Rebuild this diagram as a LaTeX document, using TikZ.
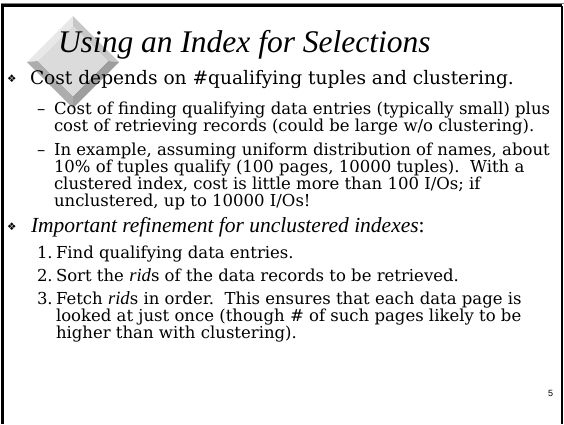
\documentclass[tikz,border=0pt]{standalone}
\usepackage{fontspec}
\setmainfont{DejaVu Serif}
\newfontfamily\slantfont{Liberation Serif}
\newfontfamily\ridfont{Liberation Serif}[Scale=MatchLowercase]
\newfontfamily\dingfont{DejaVu Sans}
\newfontfamily\pagefont{Liberation Sans}
\newcommand{\slant}[1]{{\slantfont\itshape #1}}
\newcommand{\rid}{{\ridfont\itshape rid}}
\usetikzlibrary{positioning, calc}
\definecolor{bevelhi}{gray}{0.91}
\definecolor{bevelmid}{gray}{0.78}
\definecolor{bevellow}{gray}{0.62}
\definecolor{bevelshade}{gray}{0.68}
\definecolor{faceplate}{gray}{0.86}

\begin{document}
\begin{tikzpicture}[x=1pt, y=-1pt,
    every node/.style={inner sep=0pt, outer sep=0pt},
    headline/.style={anchor=base west, font=\fontsize{31.5}{33}\slantfont\itshape},
    mainitem/.style={anchor=base west, font=\fontsize{18.6}{21}\selectfont},
    subitem/.style={anchor=base west, align=left, font=\fontsize{16.5}{17}\selectfont},
    ding/.style={anchor=base west, font=\dingfont\fontsize{10.5}{10.5}\selectfont}]
  \useasboundingbox (0,0) rectangle (564,424);
  % frame
  \draw[line width=3pt] (2.5,424) -- (2.5,5.5) -- (562,5.5);
  \draw[gray, line width=1pt] (1,3.5) -- (564,3.5);
  \draw[line width=1.5pt] (562,5.5) -- (562,424);
  % bevelled diamond behind the title
  \coordinate (ot) at (73,16);
  \coordinate (or) at (119,62);
  \coordinate (ob) at (73,108);
  \coordinate (ol) at (27,62);
  \coordinate (it) at (73,26);
  \coordinate (ir) at (108,61);
  \coordinate (ib) at (73,96);
  \coordinate (il) at (38,61);
  \fill[bevelhi] (ol) -- (ot) -- (it) -- (il) -- cycle;
  \fill[bevelmid] (ot) -- (or) -- (ir) -- (it) -- cycle;
  \fill[bevellow] (or) -- (ob) -- (ib) -- (ir) -- cycle;
  \fill[bevelshade] (ob) -- (ol) -- (il) -- (ib) -- cycle;
  \fill[faceplate] (it) -- (ir) -- (ib) -- (il) -- cycle;
  % title
  \node[headline] (title) at (58,52) {Using an Index for Selections};
  % first bullet (multi-line nodes sit on their last baseline)
  \node[ding] (d1) at (7,82) {❖};
  \node[mainitem] (cost) at (30,84) {Cost depends on \#qualifying tuples and clustering.};
  \node[subitem] (dash1) at (37,114) {–};
  \node[subitem] (find) at (54,131) {Cost of finding qualifying data entries (typically small) plus\\
    cost of retrieving records (could be large w/o clustering).};
  \node[subitem] (dash2) at (37,155) {–};
  \node[subitem] (example) at (54,206) {In example, assuming uniform distribution of names, about\\
    10\% of tuples qualify (100 pages, 10000 tuples).\ \ With a\\
    clustered index, cost is little more than 100 I/Os; if\\
    unclustered, up to 10000 I/Os!};
  % second bullet
  \node[ding] (d2) at (7,230) {❖};
  \node[mainitem, font=\fontsize{21.5}{22}\slantfont] (refine) at (31,232) {\textit{Important refinement for unclustered indexes}:};
  \node[subitem] (n1) at (37,258) {1.};
  \node[subitem] (step1) at (56,258) {Find qualifying data entries.};
  \node[subitem] (n2) at (37,281) {2.};
  \node[subitem] (step2) at (56,281) {Sort the \rid s of the data records to be retrieved.};
  \node[subitem] (n3) at (37,304) {3.};
  \node[subitem] (step3) at (56,338) {Fetch \rid s in order.\ \ This ensures that each data page is\\
    looked at just once (though \# of such pages likely to be\\
    higher than with clustering).};
  % page number
  \node[anchor=base west, font=\pagefont\fontsize{9}{9}\selectfont] (pageno) at (548,396) {5};
\end{tikzpicture}
\end{document}
